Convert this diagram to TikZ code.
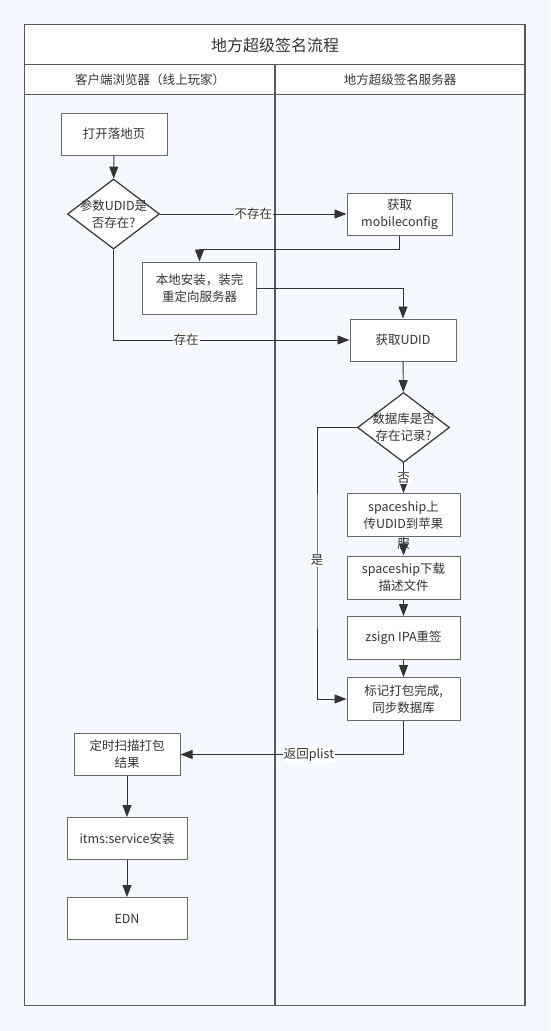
\documentclass[tikz,border=0pt]{standalone}
\usepackage{fontspec}
\setmainfont{Noto Sans CJK SC}
\usetikzlibrary{arrows.meta,shapes.geometric}
\definecolor{bgblue}{RGB}{245,249,255}
\definecolor{framegray}{RGB}{88,88,92}
\definecolor{boxgray}{RGB}{105,105,105}
\definecolor{textgray}{RGB}{51,51,51}
\begin{document}
\begin{tikzpicture}[x=1pt,y=-1pt,
  txt/.style={text=textgray,font=\fontsize{12.5pt}{17pt}\selectfont,align=center},
  box/.style={txt,draw=boxgray,fill=white,line width=1pt,inner sep=0pt,minimum width=106pt,minimum height=42pt},
  decision/.style={diamond,draw=textgray,fill=white,line width=1.2pt,inner sep=0pt,minimum width=92pt,minimum height=70pt},
  flow/.style={draw=textgray,line width=0.9pt,-{Triangle[length=12pt,width=9pt]}},
  elabel/.style={txt,fill=white,inner sep=1pt}]
\useasboundingbox[fill=bgblue] (0,0) rectangle (550,1031);
\fill[white] (24.5,24.5) rectangle (525,94.5);
\draw[framegray,line width=1.5pt] (24.5,24.5) rectangle (525,1005.5);
\draw[framegray,line width=1.5pt] (24.5,64.5) -- (525,64.5);
\draw[framegray,line width=1.5pt] (24.5,94.5) -- (525,94.5);
\draw[framegray,line width=1.5pt] (275,64.5) -- (275,1005.5);
\node[txt,font=\fontsize{16pt}{20pt}\selectfont] (title) at (275,45) {地方超级签名流程};
\node[txt] (laneclient) at (150,80) {客户端浏览器（线上玩家）};
\node[txt] (laneserver) at (400,80) {地方超级签名服务器};
\node[box] (landing) at (114,134) {打开落地页};
\node[decision,label={[txt]center:参数UDID是\\否存在?}] (hasudid) at (113.5,214) {};
\node[box,minimum width=105pt] (getcfg) at (399.5,214) {获取\\mobileconfig};
\node[box,minimum width=114pt,minimum height=52pt] (install) at (199.5,288) {本地安装，装完\\重定向服务器};
\node[box] (getudid) at (403,340) {获取UDID};
\node[decision,label={[txt]center:数据库是否\\存在记录?}] (hasrecord) at (403.5,427.5) {};
\node[txt] (overflow) at (403.5,544) {服};
\node[box,minimum width=113pt,minimum height=43pt] (upload) at (403.5,515) {spaceship上\\传UDID到苹果};
\node[box,minimum width=113pt,minimum height=43pt] (download) at (403.5,577.5) {spaceship下载\\描述文件};
\node[box,minimum width=113pt,minimum height=43pt] (resign) at (403.5,638) {zsign IPA重签};
\node[box,minimum width=113pt,minimum height=43pt] (mark) at (403.5,699) {标记打包完成,\\同步数据库};
\node[box] (scan) at (127,754.5) {定时扫描打包\\结果};
\node[box,minimum width=120pt] (itms) at (127,838.5) {itms:service安装};
\node[box,minimum width=120pt] (edn) at (127,918.5) {EDN};
\coordinate (yes) at (317,560);
\draw[flow] (landing) -- (hasudid);
\draw[flow] (hasudid.east) -- node[elabel] {不存在} (getcfg.west);
\draw[flow] (getcfg.south) -- ++(0,14) -| (install.north);
\draw[flow] (install.east) -| (getudid.north);
\draw[flow] (hasudid.south) |- node[elabel,pos=0.654] {存在} (getudid.west);
\draw[flow] (getudid) -- (hasrecord);
\draw[flow] (hasrecord.south) -- node[elabel] {否} (upload.north);
\draw[flow] (upload) -- (download);
\draw[flow] (download) -- (resign);
\draw[flow] (resign) -- (mark);
\draw[flow] (hasrecord.west) -| (yes) node[elabel] {是} |- (mark.west);
\draw[flow] (mark.south) |- node[elabel,pos=0.712] {返回plist} (scan.east);
\draw[flow] (scan) -- (itms);
\draw[flow] (itms) -- (edn);
\end{tikzpicture}
\end{document}
